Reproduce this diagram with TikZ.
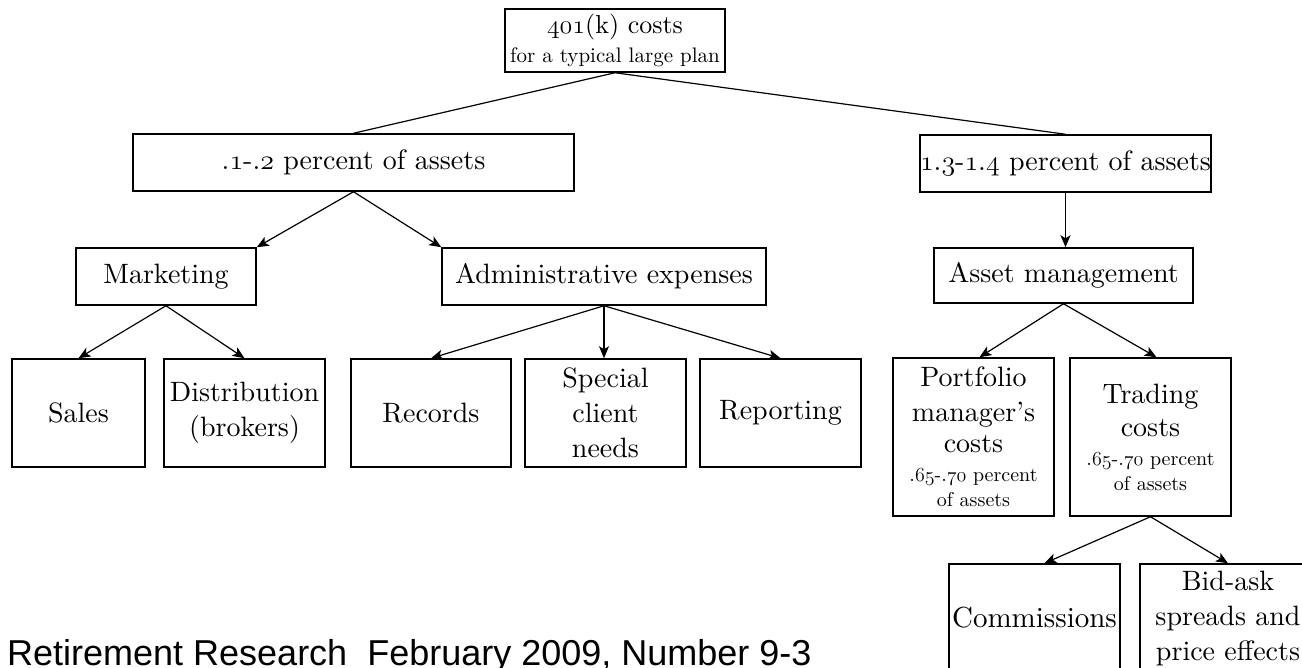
\RequirePackage{fix-cm}
\documentclass[tikz,border=0pt]{standalone}
\usepackage{fontspec}
\setmainfont{lmroman10-regular.otf}
\newfontfamily\footfont{Liberation Sans}
\usetikzlibrary{arrows.meta,calc}
\newcommand\myosf[1]{{\usefont{OML}{cmm}{m}{it}#1}}
\newcommand\bigf{\fontsize{28}{35}\selectfont}
\newcommand\smallf{\fontsize{20}{25}\selectfont}
\tikzset{
  box/.style={draw, line width=1.5pt, align=center, inner sep=0pt, font=\bigf},
  arr/.style={-{Stealth[length=12pt,width=10pt,inset=3pt]}, line width=1.2pt},
  ln/.style={line width=1.2pt},
}
\begin{document}
\begin{tikzpicture}[x=1pt,y=-1pt]
\useasboundingbox (0,0) rectangle (1302,668);
\fill[white] (0,0) rectangle (1302,668);
\clip (0,0) rectangle (1302,668);
% level 1
\node[box, minimum width=220, minimum height=63] (top) at (615,40.5)
  {\fontsize{26}{28}\selectfont\myosf{401}(k) costs\\[-6pt]\fontsize{21}{24}\selectfont for a typical large plan};
% level 2
\node[box, minimum width=441, minimum height=57] (L) at (353.5,162.5) {.\myosf{1}-.\myosf{2} percent of assets};
\node[box, minimum width=283, minimum height=57] (R) at (1065.5,163.5) {\myosf{1}.\myosf{3}-\myosf{1}.\myosf{4} percent of assets};
% level 3
\node[box, minimum width=180, minimum height=57] (mkt) at (166,276.5) {Marketing};
\node[box, minimum width=324, minimum height=57] (adm) at (604,276.5) {Administrative expenses};
\node[box, minimum width=259, minimum height=55] (asset) at (1063.5,275.5) {Asset management};
% level 4
\node[box, minimum width=133, minimum height=108] (sales) at (78.5,413) {Sales};
\node[box, minimum width=161, minimum height=108] (dist) at (244.5,413) {Distribution\\(brokers)};
\node[box, minimum width=160, minimum height=108] (rec) at (431,413) {Records};
\node[box, minimum width=161, minimum height=108] (spec) at (605.5,413) {Special\\client\\needs};
\node[box, minimum width=161, minimum height=108] (rep) at (780.5,413) {Reporting};
\node[box, minimum width=161, minimum height=158] (port) at (973.5,437)
  {Portfolio\\manager’s\\[-4pt]costs\\[-6pt]\smallf .\myosf{65}-.\myosf{70} percent\\[-10pt]\smallf of assets};
\node[box, minimum width=161, minimum height=158] (trad) at (1150.5,437)
  {Trading\\[-2pt]costs\\[-6pt]\smallf .\myosf{65}-.\myosf{70} percent\\[-10pt]\smallf of assets};
% level 5
\node[box, minimum width=171, minimum height=108, font=\fontsize{29}{35}\selectfont] (comm) at (1034.5,618) {Commissions};
\node[box, minimum width=176, minimum height=108] (bid) at (1228,618) {Bid-ask\\spreads and\\price effects};
% footer
\node[anchor=base west, inner sep=0pt, font=\footfont\fontsize{36}{40}\selectfont] (foot) at (7,665)
  {Retirement Research\ \ February 2009, Number 9-3};
% connectors
\draw[ln] (top.south) -- (L.north);
\draw[ln] (top.south) -- (R.north);
\draw[arr] (L.south) -- (mkt.north east);
\draw[arr] (L.south) -- (adm.north west);
\draw[arr] (R.south) -- (R.south |- asset.north);
\draw[arr] (mkt.south) -- (sales.north);
\draw[arr] (mkt.south) -- (dist.north);
\draw[arr] (adm.south) -- (rec.north);
\draw[arr] (adm.south) -- (adm.south |- spec.north);
\draw[arr] (adm.south) -- (rep.north);
\draw[arr] (asset.south) -- ($(port.north)+(6,0)$);
\draw[arr] (asset.south) -- ($(trad.north)+(6,0)$);
\draw[arr] (trad.south) -- ($(comm.north)+(10,0)$);
\draw[arr] (trad.south) -- (bid.north);
\end{tikzpicture}
\end{document}
